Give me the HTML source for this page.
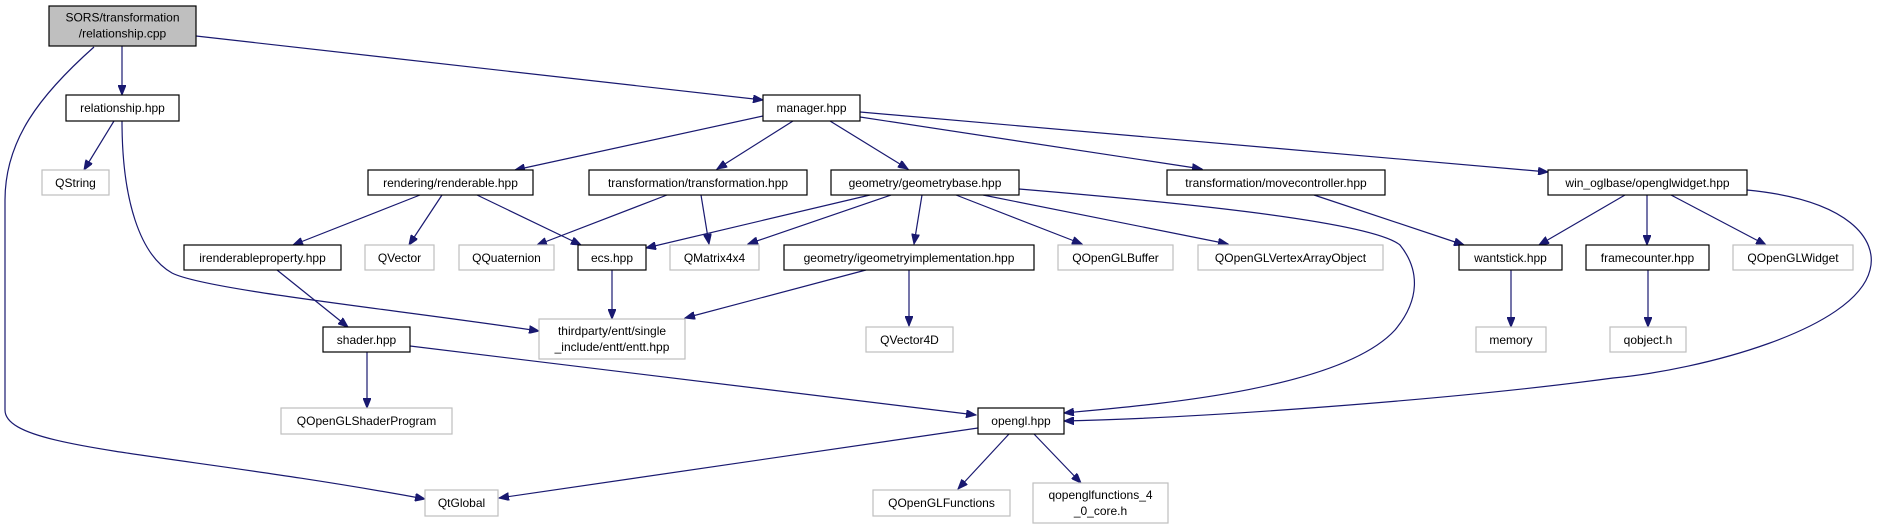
<!DOCTYPE html>
<html><head><meta charset="utf-8"><style>
html,body{margin:0;padding:0;background:#fff;width:1878px;height:529px;overflow:hidden}
svg text{font-family:"Liberation Sans",Arial,sans-serif;font-size:12px;fill:#000;text-anchor:middle}
.b{fill:#fff;stroke:#000;stroke-width:1.2}
.g{fill:#fff;stroke:#bfbfbf;stroke-width:1.2}
.e{fill:none;stroke:#191970;stroke-width:1.2;marker-end:url(#a)}
</style></head><body>
<svg width="1878" height="529" viewBox="0 0 1878 529" xmlns="http://www.w3.org/2000/svg">
<defs><marker id="a" markerUnits="userSpaceOnUse" markerWidth="11" markerHeight="8" refX="10" refY="4" orient="auto"><path d="M0,0 L10,4 L0,8 z" fill="#191970" stroke="#191970"/></marker></defs>
<!-- edges -->
<path class="e" d="M122,46 L122,95"/>
<path class="e" d="M196,36 L763,100"/>
<path class="e" d="M94,47 C40,95 5,140 5,200 L5,410 C5,450 170,452 425,499"/>
<path class="e" d="M114,121 L84,170"/>
<path class="e" d="M122,121 C122,200 140,255 172,273 C205,290 400,310 539,331"/>
<path class="e" d="M763,116 L515,170"/>
<path class="e" d="M793,121 L717,169"/>
<path class="e" d="M830,121 L908,169"/>
<path class="e" d="M860,117 L1202,169"/>
<path class="e" d="M860,112 L1548,172"/>
<path class="e" d="M420,195 L293,245"/>
<path class="e" d="M442,195 L409,245"/>
<path class="e" d="M477,195 L581,245"/>
<path class="e" d="M667,195 L537,245"/>
<path class="e" d="M701,195 L709,244"/>
<path class="e" d="M870,195 L646,248"/>
<path class="e" d="M891,195 L748,244"/>
<path class="e" d="M922,195 L914,244"/>
<path class="e" d="M956,195 L1082,244"/>
<path class="e" d="M983,195 L1228,244"/>
<path class="e" d="M1019,189 C1150,200 1370,220 1400,245 C1420,270 1420,300 1395,330 C1340,390 1150,405 1064,413"/>
<path class="e" d="M1314,195 L1464,245"/>
<path class="e" d="M1625,195 L1539,245"/>
<path class="e" d="M1647,195 L1647,245"/>
<path class="e" d="M1671,195 L1766,245"/>
<path class="e" d="M1747,190 C1850,200 1878,240 1870,270 C1855,330 1700,370 1613,378 C1450,400 1200,418 1064,421"/>
<path class="e" d="M1511,270 L1511,327"/>
<path class="e" d="M1648,270 L1648,327"/>
<path class="e" d="M277,270 L348,327"/>
<path class="e" d="M612,270 L612,319"/>
<path class="e" d="M866,270 L685,318"/>
<path class="e" d="M909,270 L909,326"/>
<path class="e" d="M367,352 L367,408"/>
<path class="e" d="M410,346 L976,415"/>
<path class="e" d="M978,428 L499,498"/>
<path class="e" d="M1009,434 L958,489"/>
<path class="e" d="M1034,434 L1081,483"/>
<!-- nodes -->
<rect x="49" y="6" width="147" height="40" fill="#bfbfbf" stroke="#000" stroke-width="1.2"/>
<text x="122.5" y="21.5">SORS/transformation</text><text x="122.5" y="37.5">/relationship.cpp</text>
<rect class="b" x="66" y="95" width="113" height="26"/><text x="122.5" y="112">relationship.hpp</text>
<rect class="b" x="763" y="95" width="97" height="26"/><text x="811.5" y="112">manager.hpp</text>
<rect class="g" x="42" y="170" width="67" height="25"/><text x="75.5" y="187">QString</text>
<rect class="b" x="368" y="170" width="165" height="25"/><text x="450.5" y="187">rendering/renderable.hpp</text>
<rect class="b" x="589" y="170" width="218" height="25"/><text x="698" y="187">transformation/transformation.hpp</text>
<rect class="b" x="831" y="170" width="188" height="25"/><text x="925" y="187">geometry/geometrybase.hpp</text>
<rect class="b" x="1167" y="170" width="218" height="25"/><text x="1276" y="187">transformation/movecontroller.hpp</text>
<rect class="b" x="1548" y="170" width="199" height="25"/><text x="1647.5" y="187">win_oglbase/openglwidget.hpp</text>
<rect class="b" x="184" y="245" width="157" height="25"/><text x="262.5" y="262">irenderableproperty.hpp</text>
<rect class="g" x="365" y="245" width="69" height="25"/><text x="399.5" y="262">QVector</text>
<rect class="g" x="459" y="245" width="95" height="25"/><text x="506.5" y="262">QQuaternion</text>
<rect class="b" x="578" y="245" width="68" height="25"/><text x="612" y="262">ecs.hpp</text>
<rect class="g" x="670" y="245" width="89" height="25"/><text x="714.5" y="262">QMatrix4x4</text>
<rect class="b" x="784" y="245" width="250" height="25"/><text x="909" y="262">geometry/igeometryimplementation.hpp</text>
<rect class="g" x="1058" y="245" width="115" height="25"/><text x="1115.5" y="262">QOpenGLBuffer</text>
<rect class="g" x="1198" y="245" width="185" height="25"/><text x="1290.5" y="262">QOpenGLVertexArrayObject</text>
<rect class="b" x="1459" y="245" width="103" height="25"/><text x="1510.5" y="262">wantstick.hpp</text>
<rect class="b" x="1586" y="245" width="123" height="25"/><text x="1647.5" y="262">framecounter.hpp</text>
<rect class="g" x="1733" y="245" width="120" height="25"/><text x="1793" y="262">QOpenGLWidget</text>
<rect class="b" x="323" y="327" width="87" height="25"/><text x="366.5" y="344">shader.hpp</text>
<rect class="g" x="539" y="319" width="146" height="40"/><text x="612" y="335">thirdparty/entt/single</text><text x="612" y="351">_include/entt/entt.hpp</text>
<rect class="g" x="866" y="327" width="87" height="25"/><text x="909.5" y="344">QVector4D</text>
<rect class="g" x="1476" y="327" width="70" height="25"/><text x="1511" y="344">memory</text>
<rect class="g" x="1610" y="327" width="76" height="25"/><text x="1648" y="344">qobject.h</text>
<rect class="g" x="281" y="408" width="171" height="26"/><text x="366.5" y="425">QOpenGLShaderProgram</text>
<rect class="b" x="978" y="408" width="86" height="26"/><text x="1021" y="425">opengl.hpp</text>
<rect class="g" x="425" y="490" width="73" height="26"/><text x="461.5" y="507">QtGlobal</text>
<rect class="g" x="873" y="490" width="137" height="26"/><text x="941.5" y="507">QOpenGLFunctions</text>
<rect class="g" x="1033" y="483" width="135" height="40"/><text x="1100.5" y="499">qopenglfunctions_4</text><text x="1100.5" y="515">_0_core.h</text>
</svg>
</body></html>
